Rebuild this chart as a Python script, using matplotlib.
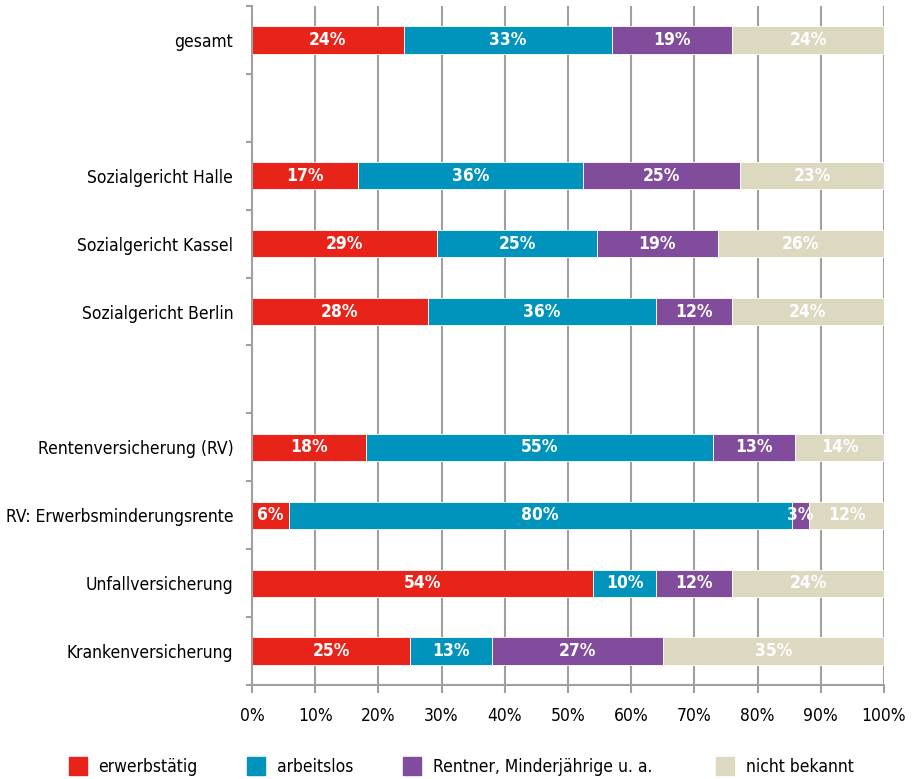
import matplotlib
matplotlib.use("Agg")
import matplotlib.pyplot as plt
from matplotlib.lines import Line2D

plt.rcParams['font.family'] = ['DejaVu Sans']
plt.rcParams['font.stretch'] = 'condensed'

categories = ["gesamt", "", "Sozialgericht Halle", "Sozialgericht Kassel", "Sozialgericht Berlin", "",
              "Rentenversicherung (RV)", "RV: Erwerbsminderungsrente", "Unfallversicherung", "Krankenversicherung"]
series_names = ["erwerbstätig", "arbeitslos", "Rentner, Minderjährige u. a.", "nicht bekannt"]
erwerbstaetig = [24.0, None, 16.8, 29.3, 27.8, None, 18.0, 5.8, 54.0, 25.0]
arbeitslos    = [33.0, None, 35.6, 25.3, 36.1, None, 54.9, 79.6, 10.0, 13.0]
rentner       = [19.0, None, 24.8, 19.1, 12.0, None, 13.0, 2.8, 12.0, 27.0]
unbekannt     = [24.0, None, 22.8, 26.3, 24.1, None, 14.1, 11.8, 24.0, 35.0]
colors = ["#E8231A", "#0094BC", "#824C9C", "#DDD8C0"]
xticks = [0, 10, 20, 30, 40, 50, 60, 70, 80, 90, 100]

fig = plt.figure(figsize=(9.15, 7.79), dpi=100)
ax = fig.add_axes([252/915, 1-685/779, 632/915, 679/779])

grid_c = "#A0A0A0"
for x in xticks[1:]:
    ax.axvline(x, color=grid_c, lw=1.5, zorder=0)

series = [erwerbstaetig, arbeitslos, rentner, unbekannt]
for i, cat in enumerate(categories):
    left = 0
    if erwerbstaetig[i] is None:
        continue
    for s, c in zip(series, colors):
        v = s[i]
        ax.barh(i, v, left=left, height=0.4, color=c, edgecolor="white", linewidth=0.6, zorder=2)
        ax.text(left + v/2, i, f"{round(v)}%", ha="center", va="center", color="white",
                fontsize=12.5, fontweight="bold", zorder=3)
        left += v

ax.set_xlim(0, 100)
ax.set_ylim(len(categories)-0.5, -0.5)
ax.set_xticks(xticks)
ax.set_xticklabels([f"{x}%" for x in xticks], fontsize=12.5)
ax.tick_params(axis="x", direction="out", length=6, width=1.5, color=grid_c, pad=10)

ax.set_yticks([i - 0.5 for i in range(len(categories)+1)])
ax.set_yticklabels([])
ax.set_yticks(range(len(categories)), minor=True)
ax.set_yticklabels(categories, minor=True, fontsize=12.5)
ax.tick_params(axis="y", which="major", direction="out", length=4, width=1.5, color=grid_c)
ax.tick_params(axis="y", which="minor", length=0, pad=13.5)

for sp in ["top", "right"]:
    ax.spines[sp].set_visible(False)
for sp in ["left", "bottom"]:
    ax.spines[sp].set_color(grid_c)
    ax.spines[sp].set_linewidth(1.5)

legend_x = [69, 247, 403, 716]
for name, c, lx in zip(series_names, colors, legend_x):
    h = Line2D([], [], marker="s", linestyle="none", markersize=12.5, color=c)
    fig.legend([h], [name], loc="center left", bbox_to_anchor=(lx/915, 1-767/779),
               frameon=False, fontsize=12.5, borderpad=0, borderaxespad=0,
               handletextpad=0.7, handlelength=1.0)

fig.savefig("out.png", dpi=100)
